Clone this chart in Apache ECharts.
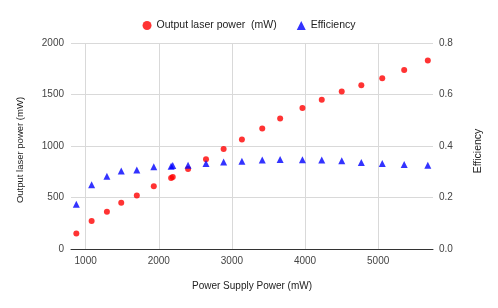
<!DOCTYPE html>
<html><head><meta charset="utf-8">
<script src="https://cdn.jsdelivr.net/npm/echarts@6/dist/echarts.min.js"></script>
<style>html,body{margin:0;padding:0;background:#fff}#c{width:498px;height:308px}</style>
</head><body><div id="c"></div>
<script>
const supplyPower = [873,1082,1291,1487,1700,1932,2169,2191,2401,2646,2887,3137,3415,3660,3965,4229,4502,4770,5056,5356,5679];
const laserPower = [151,271,361,448,519,610,690,700,777,871,971,1064,1171,1268,1368,1449,1529,1590,1658,1739,1829];
const efficiency = [0.174,0.250,0.283,0.303,0.307,0.319,0.321,0.324,0.325,0.332,0.338,0.341,0.346,0.348,0.347,0.346,0.343,0.336,0.332,0.328,0.325];
const xTicks = [1000,2000,3000,4000,5000];
const seriesNames = ['Output laser power  (mW)','Efficiency'];

const font = 'Arial, "Liberation Sans", sans-serif';
const chart = echarts.init(document.getElementById('c'), null, {renderer:'canvas'});
chart.setOption({
  animation:false,
  textStyle:{fontFamily:font},
  legend:{
    top:15, left:'center', itemWidth:9, itemHeight:9, itemGap:20,
    textStyle:{fontSize:10.5,color:'#222',fontFamily:font},
    data:[{name:seriesNames[0],icon:'circle'},{name:seriesNames[1],icon:'triangle'}]
  },
  grid:{left:71,right:65,top:43,bottom:59,containLabel:false},
  xAxis:{
    type:'value', min:800, max:5750,
    name:'Power Supply Power (mW)', nameLocation:'middle', nameGap:32,
    nameTextStyle:{fontSize:10,color:'#222'},
    axisLine:{lineStyle:{color:'#333'}},
    axisTick:{show:false, customValues:xTicks},
    axisLabel:{customValues:xTicks, fontSize:10, color:'#444', margin:7, formatter:v=>String(v)},
    splitLine:{show:true, lineStyle:{color:'#d9d9d9', width:1}}
  },
  yAxis:[{
    type:'value', min:0, max:2000, interval:500,
    name:'Output laser power (mW)', nameLocation:'middle', nameGap:46,
    nameTextStyle:{fontSize:9.5,color:'#222',padding:[0,8,0,0]},
    axisLine:{show:false}, axisTick:{show:false},
    axisLabel:{fontSize:10,color:'#444',margin:7,formatter:v=>String(v)},
    splitLine:{lineStyle:{color:'#d9d9d9',width:1}}
  },{
    type:'value', min:0, max:0.8, interval:0.2, position:'right',
    name:'Efficiency', nameLocation:'middle', nameGap:40, nameRotate:90,
    nameTextStyle:{fontSize:10.5,color:'#222',padding:[0,10,0,0]},
    axisLine:{show:false}, axisTick:{show:false},
    axisLabel:{fontSize:10,color:'#444',margin:6,formatter:v=>v.toFixed(1)},
    splitLine:{show:false}
  }],
  series:[{
    name:seriesNames[0], type:'scatter', yAxisIndex:0,
    symbol:'circle', symbolSize:6, itemStyle:{color:'#ff0000'},
    data:supplyPower.map((x,i)=>[x,laserPower[i]])
  },{
    name:seriesNames[1], type:'scatter', yAxisIndex:1,
    symbol:'triangle', symbolSize:7, itemStyle:{color:'#0000ff'},
    data:supplyPower.map((x,i)=>[x,efficiency[i]])
  }]
});
</script></body></html>
